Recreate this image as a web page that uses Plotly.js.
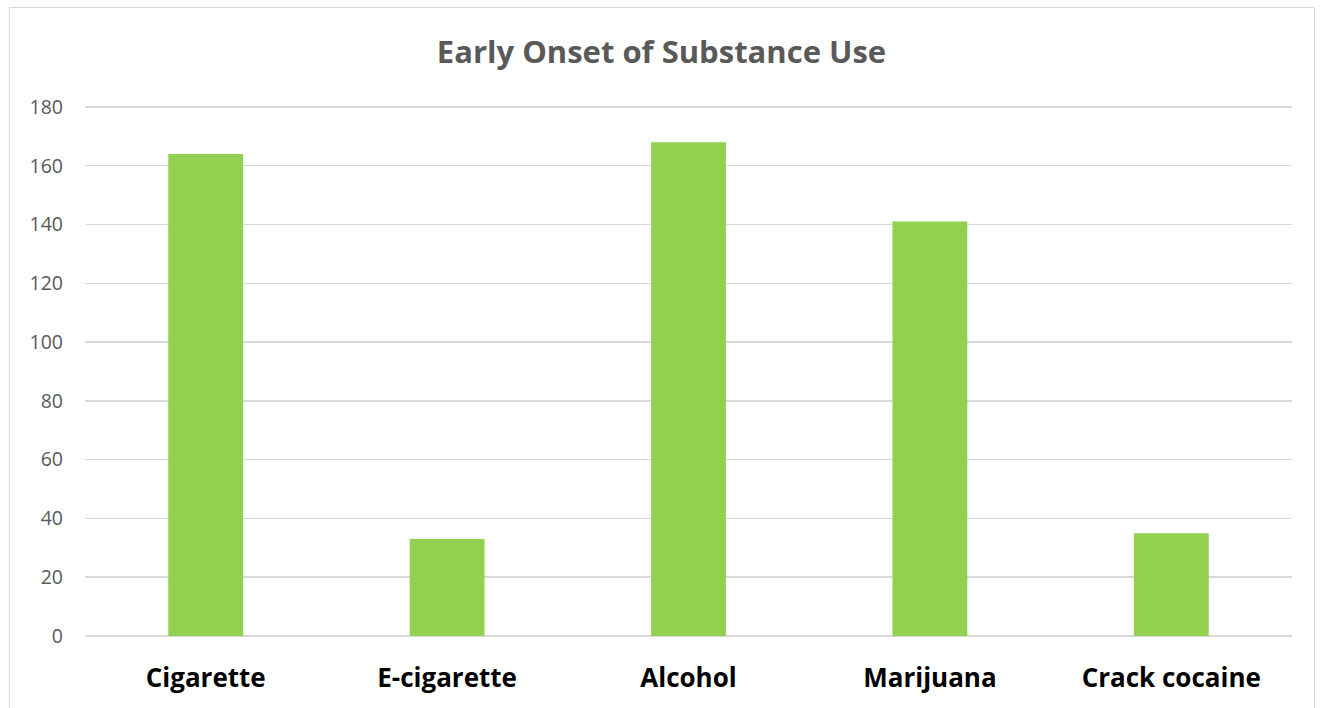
<!DOCTYPE html>
<html>
<head>
<meta charset="utf-8">
<script src="https://cdn.plot.ly/plotly-3.0.1.min.js"></script>
<style>
  html, body { margin: 0; padding: 0; background: #ffffff; }
  #frame { position: absolute; left: 9px; top: 7px; width: 1306px; height: 710px;
           border: 1.5px solid #d9d9d9; box-sizing: border-box; }
  #chart { position: absolute; left: 0; top: 0; width: 1323px; height: 708px; }
</style>
</head>
<body>
<div id="frame"></div>
<div id="chart"></div>
<script>
// Number of respondents reporting early onset, by substance
const substances = ["Cigarette", "E-cigarette", "Alcohol", "Marijuana", "Crack cocaine"];
const counts = [164, 33, 168, 141, 35];
const yTicks = [0, 20, 40, 60, 80, 100, 120, 140, 160, 180];

const trace = {
  type: "bar",
  x: substances,
  y: counts,
  marker: { color: "#92d050" },
  hoverinfo: "x+y"
};

const layout = {
  width: 1323,
  height: 708,
  paper_bgcolor: "rgba(0,0,0,0)",
  plot_bgcolor: "rgba(0,0,0,0)",
  margin: { l: 85, r: 31, t: 103.6, b: 71.5 },
  bargap: 0.69,
  showlegend: false,
  title: {
    text: "<b>Early Onset of Substance Use</b>",
    font: { family: "Open Sans, sans-serif", size: 31, color: "#595959" },
    x: 0.5, xanchor: "center",
    y: 1 - 52 / 708, yanchor: "middle"
  },
  xaxis: {
    type: "category",
    showgrid: false,
    zeroline: false,
    showline: false,
    ticks: "",
    tickfont: { family: "Open Sans, sans-serif", size: 26, color: "#000000", weight: "bold" },
    ticklabelstandoff: 24
  },
  yaxis: {
    // one unit of headroom so the 180 gridline is drawn inside the plot area
    range: [0, 181],
    tickvals: yTicks,
    ticktext: yTicks.map(String),
    showgrid: true,
    gridcolor: "#d9d9d9",
    gridwidth: 1.5,
    zeroline: true,
    zerolinecolor: "#d9d9d9",
    zerolinewidth: 1.5,
    showline: false,
    ticks: "",
    tickfont: { family: "Open Sans, sans-serif", size: 19.5, color: "#595959" },
    ticklabelstandoff: 21
  }
};

Plotly.newPlot("chart", [trace], layout, { displayModeBar: false, staticPlot: true });
</script>
</body>
</html>
